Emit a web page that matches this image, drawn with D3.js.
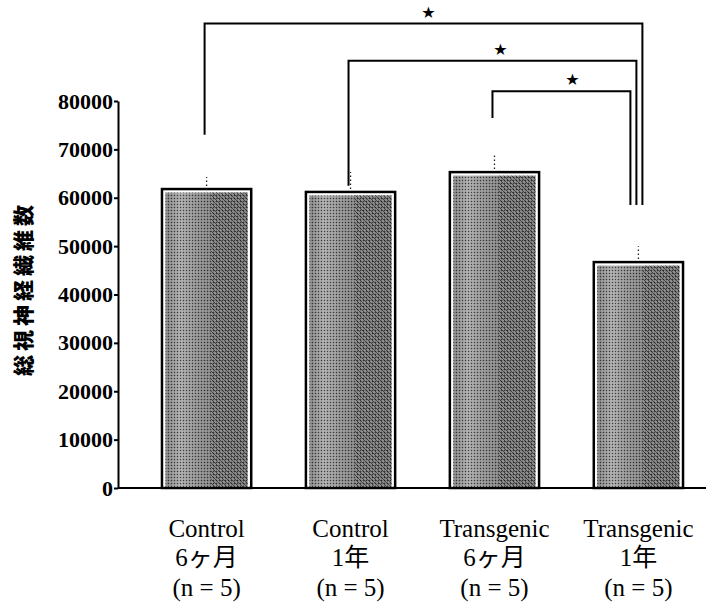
<!DOCTYPE html>
<html lang="ja">
<head>
<meta charset="UTF-8">
<title>optic nerve fibers</title>
<script src="https://d3js.org/d3.v7.min.js"></script>
<style>
    body { margin: 0; background: #fff; }
    svg { display: block; }
    .y_axis text { font: bold 22px "Liberation Serif", "Noto Sans CJK JP", serif; fill: #000; }
    .y_axis path, .y_axis line { stroke: #000; stroke-width: 2; }
    .x_label { font: 25px "Liberation Serif", "Noto Sans CJK JP", serif; fill: #000; }
    .y_title { font: 900 21px "Noto Sans CJK JP", sans-serif; fill: #000; letter-spacing: 4px; }
    .star { font: 16px "DejaVu Sans", sans-serif; fill: #000; }
</style>
</head>
<body>
<script>
// values
var groupNames = ["Control", "Control", "Transgenic", "Transgenic"];
var groupAges = ["6ヶ月", "1年", "6ヶ月", "1年"];
var groupN = ["(n = 5)", "(n = 5)", "(n = 5)", "(n = 5)"];
var fiberCounts = [61800, 61200, 65300, 46700];
var fiberSD = [2500, 4100, 3950, 3300];
var yTicks = [0, 10000, 20000, 30000, 40000, 50000, 60000, 70000, 80000];
var yTitle = "総視神経繊維数";

// significance brackets (group index from -> to, height of the bar, where the legs stop)
var sigFrom = [0, 1, 2];
var sigTo = [3, 3, 3];
var sigLevel = [96000, 88300, 82000];
var sigLeftEnd = [73000, 62500, 76500];
var sigRightEnd = [58500, 58500, 58500];
var sigLabel = ["★", "★", "★"];

var width = 720, height = 606;
var axisX = 118, axisRight = 706;

var svg = d3.select("body").append("svg")
    .attr("width", width)
    .attr("height", height);

svg.append("rect").attr("width", width).attr("height", height).attr("fill", "#fff");

var x = d3.scaleBand()
    .domain(d3.range(groupNames.length))
    .range([128, 717])
    .paddingInner(0.38)
    .paddingOuter(0.236);

var y = d3.scaleLinear()
    .domain([0, 80000])
    .range([488, 101]);

// bar texture: shading + stipple + hatch
var defs = svg.append("defs");
var grad = defs.append("linearGradient").attr("id", "shade")
    .attr("x1", 0).attr("x2", 1).attr("y1", 0).attr("y2", 0);
[["0%", "#777"], ["18%", "#a2a2a2"], ["34%", "#8c8c8c"], ["55%", "#7a7a7a"], ["100%", "#747474"]]
    .forEach(function (s) {
        grad.append("stop").attr("offset", s[0]).attr("stop-color", s[1]);
    });

var dots = defs.append("pattern").attr("id", "stipple")
    .attr("width", 3).attr("height", 3).attr("patternUnits", "userSpaceOnUse");
dots.append("rect").attr("width", 1).attr("height", 1).attr("fill", "#000").attr("opacity", 0.6);
dots.append("rect").attr("x", 1.5).attr("y", 1.5).attr("width", 1).attr("height", 1).attr("fill", "#fff").attr("opacity", 0.7);

var hatch = defs.append("pattern").attr("id", "hatch")
    .attr("width", 4).attr("height", 4).attr("patternUnits", "userSpaceOnUse");
hatch.append("path").attr("d", "M-1,-1L5,5M3,-1L5,1M-1,3L1,5")
    .attr("stroke", "#111").attr("stroke-width", 1).attr("opacity", 0.6);

// bars
var bars = svg.append("g").selectAll("g")
    .data(fiberCounts)
    .enter().append("g");

bars.append("rect")
    .attr("x", function (d, i) { return x(i); })
    .attr("y", function (d) { return y(d); })
    .attr("width", x.bandwidth())
    .attr("height", function (d) { return y(0) - y(d); })
    .attr("fill", "#fff")
    .attr("stroke", "#000")
    .attr("stroke-width", 2.5);

bars.append("rect")
    .attr("x", function (d, i) { return x(i) + 3.5; })
    .attr("y", function (d) { return y(d) + 3.5; })
    .attr("width", x.bandwidth() - 7)
    .attr("height", function (d) { return y(0) - y(d) - 3.5; })
    .attr("fill", "url(#shade)");

bars.append("rect")
    .attr("x", function (d, i) { return x(i) + 3.5; })
    .attr("y", function (d) { return y(d) + 3.5; })
    .attr("width", x.bandwidth() - 7)
    .attr("height", function (d) { return y(0) - y(d) - 3.5; })
    .attr("fill", "url(#stipple)");

bars.append("rect")
    .attr("x", function (d, i) { return x(i) + x.bandwidth() * 0.55; })
    .attr("y", function (d) { return y(d) + 3.5; })
    .attr("width", x.bandwidth() * 0.45 - 3.5)
    .attr("height", function (d) { return y(0) - y(d) - 3.5; })
    .attr("fill", "url(#hatch)");

// faint error bars
bars.append("line")
    .attr("x1", function (d, i) { return x(i) + x.bandwidth() / 2; })
    .attr("x2", function (d, i) { return x(i) + x.bandwidth() / 2; })
    .attr("y1", function (d) { return y(d) - 3; })
    .attr("y2", function (d, i) { return y(d + fiberSD[i]); })
    .attr("stroke", "#222")
    .attr("stroke-width", 1.3)
    .attr("stroke-dasharray", "1.5,2.5");

// y axis
svg.append("g")
    .attr("class", "y_axis")
    .attr("transform", "translate(" + axisX + ",0)")
    .call(d3.axisLeft(y).tickValues(yTicks).tickSize(4).tickSizeOuter(0).tickPadding(1).tickFormat(d3.format("d")));

// baseline
svg.append("line")
    .attr("x1", axisX).attr("x2", axisRight)
    .attr("y1", y(0)).attr("y2", y(0))
    .attr("stroke", "#000").attr("stroke-width", 2);

// y title
svg.append("text")
    .attr("class", "y_title")
    .attr("transform", "translate(31," + ((y(0) + y(80000)) / 2 - 6) + ") rotate(-90)")
    .attr("text-anchor", "middle")
    .text(yTitle);

// x labels
var labels = svg.append("g").selectAll("text")
    .data(groupNames)
    .enter().append("text")
    .attr("class", "x_label")
    .attr("text-anchor", "middle");

labels.append("tspan")
    .attr("x", function (d, i) { return x(i) + x.bandwidth() / 2; })
    .attr("y", 537)
    .text(function (d) { return d; });
labels.append("tspan")
    .attr("x", function (d, i) { return x(i) + x.bandwidth() / 2; })
    .attr("y", 566)
    .text(function (d, i) { return groupAges[i]; });
labels.append("tspan")
    .attr("x", function (d, i) { return x(i) + x.bandwidth() / 2; })
    .attr("y", 596)
    .text(function (d, i) { return groupN[i]; });

// significance brackets
var rightShift = [4, -2, -8];
var brackets = svg.append("g").selectAll("g")
    .data(sigFrom)
    .enter().append("g");

brackets.append("path")
    .attr("d", function (d, i) {
        var x0 = x(d) + x.bandwidth() / 2 - 2;
        var x1 = x(sigTo[i]) + x.bandwidth() / 2 + rightShift[i];
        return "M" + x0 + "," + y(sigLeftEnd[i]) +
            "V" + y(sigLevel[i]) +
            "H" + x1 +
            "V" + y(sigRightEnd[i]);
    })
    .attr("fill", "none")
    .attr("stroke", "#000")
    .attr("stroke-width", 2);

brackets.append("text")
    .attr("class", "star")
    .attr("text-anchor", "middle")
    .attr("x", function (d, i) {
        var x0 = x(d) + x.bandwidth() / 2;
        var x1 = x(sigTo[i]) + x.bandwidth() / 2;
        return (x0 + x1) / 2 + 6;
    })
    .attr("y", function (d, i) { return y(sigLevel[i]) - 6; })
    .text(function (d, i) { return sigLabel[i]; });
</script>
</body>
</html>
